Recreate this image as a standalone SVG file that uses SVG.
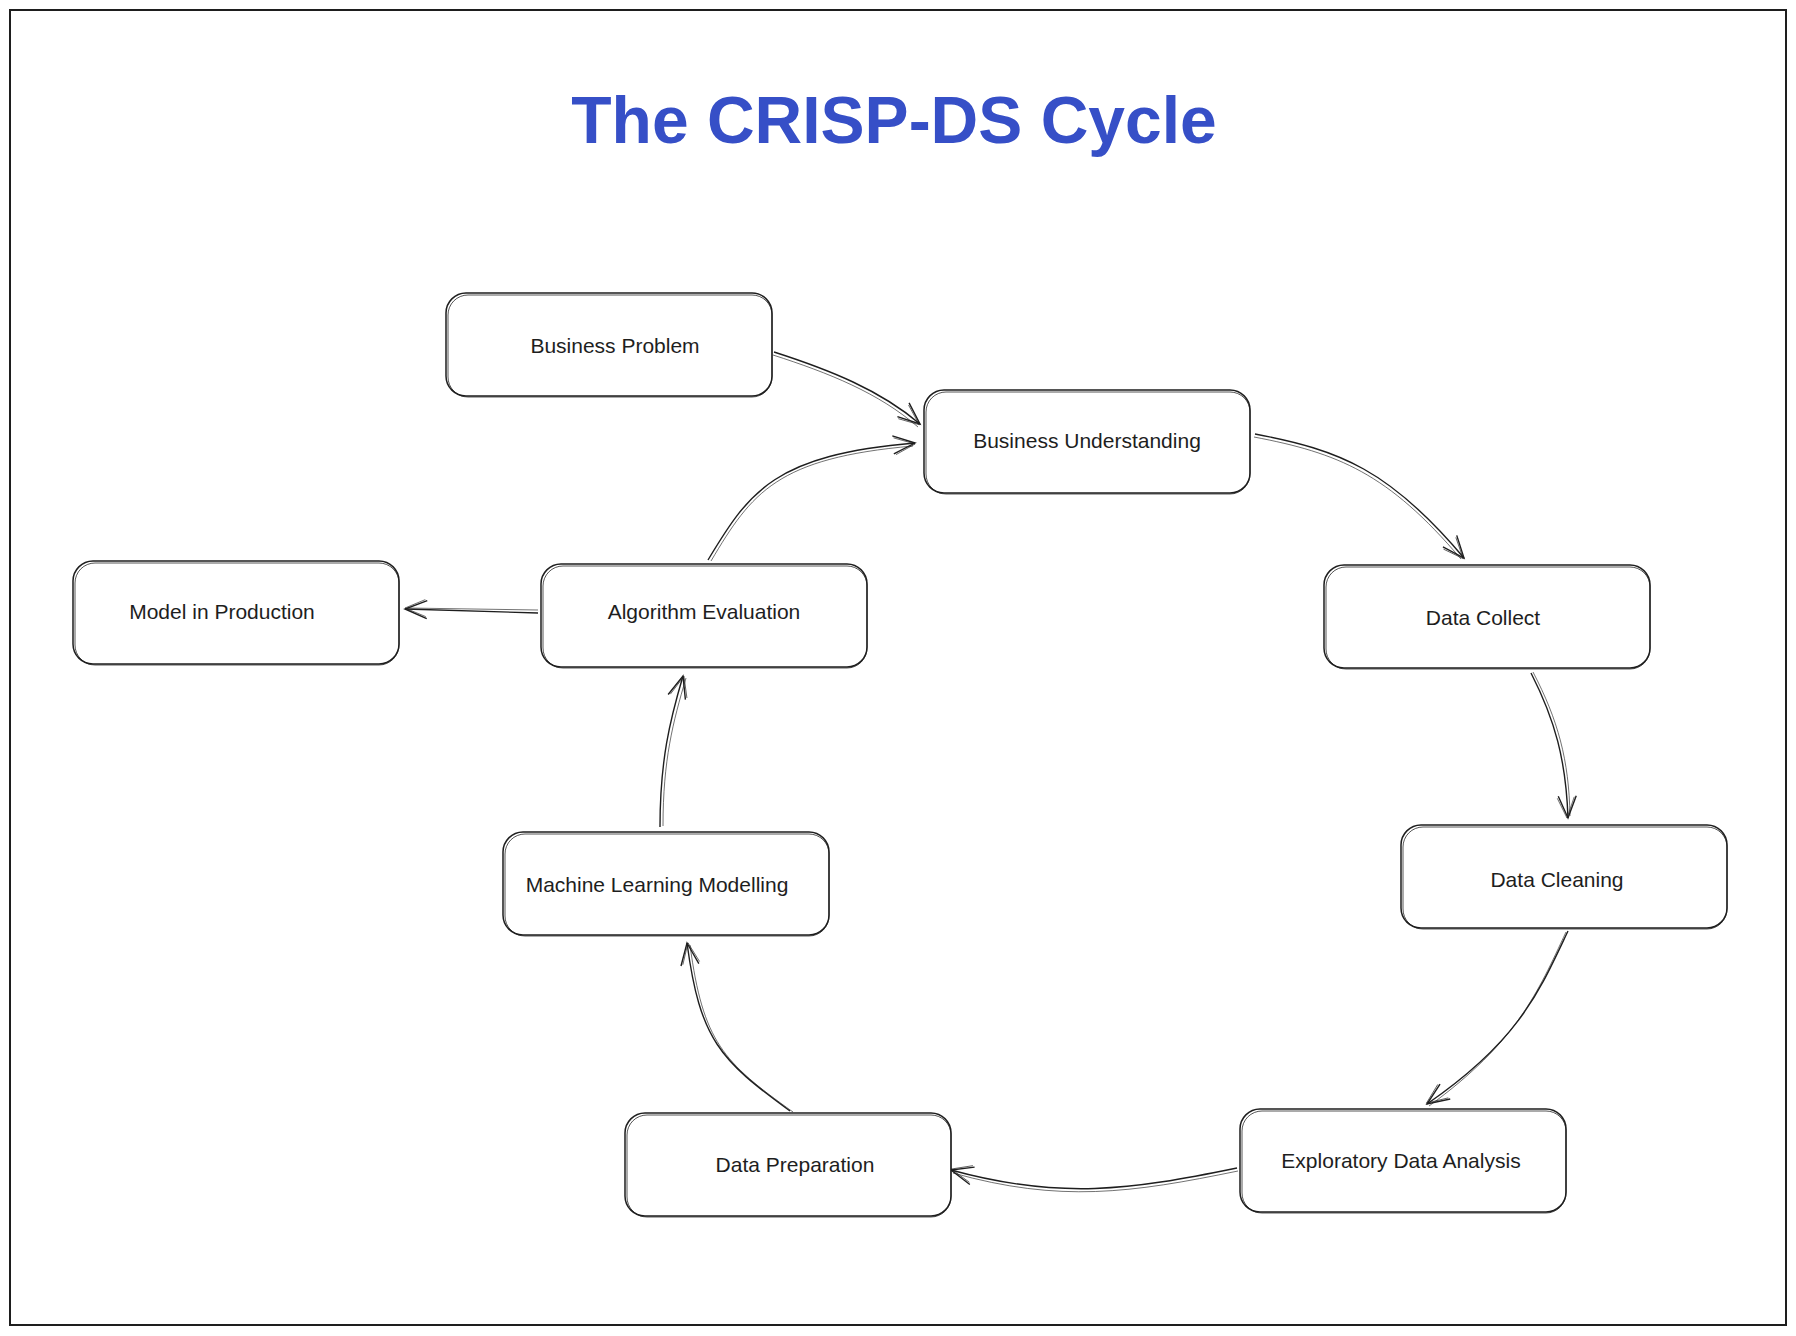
<svg xmlns="http://www.w3.org/2000/svg" width="1796" height="1336" viewBox="0 0 1796 1336">
<style>
.box{fill:#ffffff;stroke:#1e1e1e;stroke-width:1.5}
.box2{fill:none;stroke:#1e1e1e;stroke-width:1;opacity:0.75}
.lbl{font-family:"Liberation Sans",Arial,sans-serif;font-size:21px;fill:#1e1e1e;text-anchor:middle;dominant-baseline:central}
.title{font-family:"Liberation Sans",Arial,sans-serif;font-size:66px;font-weight:bold;fill:#364fc7;text-anchor:middle}
.con{fill:none;stroke:#1e1e1e;stroke-width:1.4}
.con2{fill:none;stroke:#1e1e1e;stroke-width:0.9;opacity:0.7}
</style>
<defs>
<marker id="ah" markerUnits="userSpaceOnUse" markerWidth="40" markerHeight="40" refX="0" refY="0" orient="auto" overflow="visible">
<path d="M-22,-9 L0,0 L-22,9" fill="none" stroke="#1e1e1e" stroke-width="1.4"/>
<path d="M-21,-7 L0,1 L-20,10" fill="none" stroke="#1e1e1e" stroke-width="0.9" opacity="0.7"/>
</marker>
</defs>
<rect x="10" y="10" width="1776" height="1315" fill="#ffffff" stroke="#1e1e1e" stroke-width="2"/>
<text class="title" x="894" y="143">The CRISP-DS Cycle</text>

<g id="connectors">
<path class="con" d="M774,352 C830,370 880,390 920,424" marker-end="url(#ah)"/>
<path class="con2" d="M773,355 C829,373 879,393 918,427"/>
<path class="con" d="M708,560 C750,490 775,455 915,443" marker-end="url(#ah)"/>
<path class="con2" d="M711,561 C752,492 777,458 913,446"/>
<path class="con" d="M1255,434 C1340,450 1390,470 1464,558" marker-end="url(#ah)"/>
<path class="con2" d="M1254,437 C1338,453 1388,473 1461,559"/>
<path class="con" d="M1531,673 C1555,720 1566,760 1568,818" marker-end="url(#ah)"/>
<path class="con2" d="M1533,672 C1558,720 1569,760 1570,816"/>
<path class="con" d="M1568,931 C1540,990 1520,1040 1427,1104" marker-end="url(#ah)"/>
<path class="con2" d="M1566,932 C1538,992 1517,1042 1429,1106"/>
<path class="con" d="M1237,1168 C1130,1190 1060,1200 951,1170" marker-end="url(#ah)"/>
<path class="con2" d="M1238,1171 C1131,1193 1060,1203 953,1173"/>
<path class="con" d="M790,1111 C720,1060 700,1040 687,943" marker-end="url(#ah)"/>
<path class="con2" d="M793,1112 C723,1062 703,1042 690,945"/>
<path class="con" d="M660,827 C660,760 670,720 683,676" marker-end="url(#ah)"/>
<path class="con2" d="M663,826 C663,760 673,722 686,678"/>
<path class="con" d="M538,613 L405,609" marker-end="url(#ah)"/>
<path class="con2" d="M538,610 L407,608"/>
</g>

<g id="business-problem">
<rect class="box" x="446" y="293" width="326" height="103" rx="20"/>
<rect class="box2" x="448" y="295" width="324" height="102" rx="20"/>
<text class="lbl" x="615" y="345">Business Problem</text>
</g>
<g id="business-understanding">
<rect class="box" x="924" y="390" width="326" height="103" rx="20"/>
<rect class="box2" x="926" y="392" width="324" height="102" rx="20"/>
<text class="lbl" x="1087" y="440">Business Understanding</text>
</g>
<g id="data-collect">
<rect class="box" x="1324" y="565" width="326" height="103" rx="20"/>
<rect class="box2" x="1326" y="567" width="324" height="102" rx="20"/>
<text class="lbl" x="1483" y="617">Data Collect</text>
</g>
<g id="data-cleaning">
<rect class="box" x="1401" y="825" width="326" height="103" rx="20"/>
<rect class="box2" x="1403" y="827" width="324" height="102" rx="20"/>
<text class="lbl" x="1557" y="879">Data Cleaning</text>
</g>
<g id="exploratory-data-analysis">
<rect class="box" x="1240" y="1109" width="326" height="103" rx="20"/>
<rect class="box2" x="1242" y="1111" width="324" height="102" rx="20"/>
<text class="lbl" x="1401" y="1160">Exploratory Data Analysis</text>
</g>
<g id="data-preparation">
<rect class="box" x="625" y="1113" width="326" height="103" rx="20"/>
<rect class="box2" x="627" y="1115" width="324" height="102" rx="20"/>
<text class="lbl" x="795" y="1164">Data Preparation</text>
</g>
<g id="machine-learning-modelling">
<rect class="box" x="503" y="832" width="326" height="103" rx="20"/>
<rect class="box2" x="505" y="834" width="324" height="102" rx="20"/>
<text class="lbl" x="657" y="884">Machine Learning Modelling</text>
</g>
<g id="algorithm-evaluation">
<rect class="box" x="541" y="564" width="326" height="103" rx="20"/>
<rect class="box2" x="543" y="566" width="324" height="102" rx="20"/>
<text class="lbl" x="704" y="611">Algorithm Evaluation</text>
</g>
<g id="model-in-production">
<rect class="box" x="73" y="561" width="326" height="103" rx="20"/>
<rect class="box2" x="75" y="563" width="324" height="102" rx="20"/>
<text class="lbl" x="222" y="611">Model in Production</text>
</g>
</svg>
